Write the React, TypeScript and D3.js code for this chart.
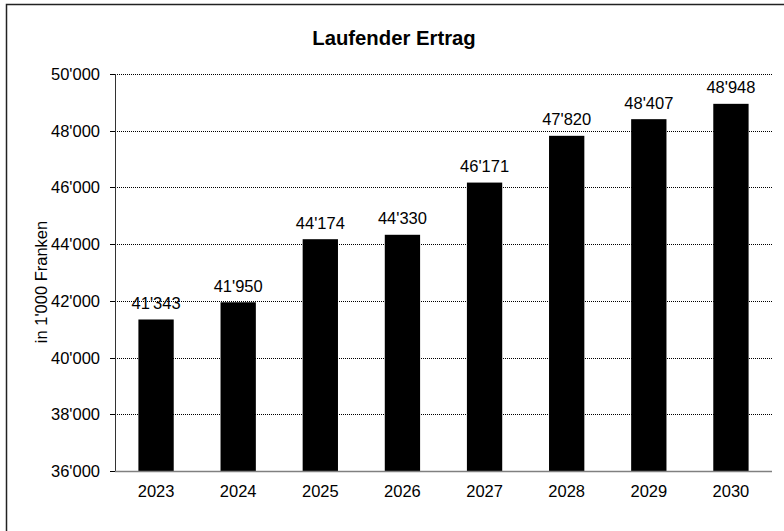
import React from "react";
import { scaleBand, scaleLinear, formatLocale, range } from "d3";

const width = 784;
const height = 531;
const margin = { top: 74, right: 12, bottom: 60, left: 115 };
const plotW = 772 - margin.left;
const plotH = 471 - margin.top;

const years = ["2023", "2024", "2025", "2026", "2027", "2028", "2029", "2030"];
const ertrag = [41343, 41950, 44174, 44330, 46171, 47820, 48407, 48948];
const yTicks = range(36000, 50001, 2000);

const title = "Laufender Ertrag";
const yLabel = "in 1'000 Franken";

const fmt = formatLocale({
  decimal: ".",
  thousands: "'",
  grouping: [3],
  currency: ["", ""],
}).format(",d");

const x = scaleBand().domain(years).range([0, plotW]).paddingInner(0.57).paddingOuter(0.285);
const y = scaleLinear().domain([36000, 50000]).range([plotH, 0]);

const font = "'Liberation Sans', Arial, sans-serif";
const fs = 16.5;

const App = () => (
  <svg
    width={width}
    height={height}
    style={{ position: "absolute", left: 0, top: 0, background: "#fff" }}
    fontFamily={font}
  >
    <rect x={6.5} y={4.5} width={800} height={600} fill="#fff" stroke="#222" strokeWidth="1.5" />
    <text x={394} y={45} textAnchor="middle" fontSize="20.3" fontWeight="bold">
      {title}
    </text>
    <text
      transform={`translate(47, 282) rotate(-90)`}
      textAnchor="middle"
      fontSize={fs}
    >
      {yLabel}
    </text>
    <g transform={`translate(${margin.left}, ${margin.top})`}>
      {yTicks.map((t) => (
        <g key={t} transform={`translate(0, ${Math.round(y(t)) + 0.5})`}>
          {t > 36000 && (
            <line x1={0} x2={plotW} stroke="#000" strokeWidth="1" strokeDasharray="1,1" />
          )}
          <line x1={-5} x2={0} stroke="#000" />
          <text x={-15} dy="0.35em" textAnchor="end" fontSize={fs}>
            {fmt(t)}
          </text>
        </g>
      ))}
      {ertrag.map((v, i) => (
        <g key={years[i]}>
          <rect x={x(years[i])} y={y(v)} width={x.bandwidth()} height={plotH - y(v)} fill="#000" />
          <text
            x={(x(years[i]) as number) + x.bandwidth() / 2}
            y={y(v) - 10.5}
            textAnchor="middle"
            fontSize={fs}
          >
            {fmt(v)}
          </text>
          <text
            x={(x(years[i]) as number) + x.bandwidth() / 2}
            y={plotH + 26}
            textAnchor="middle"
            fontSize={fs}
          >
            {years[i]}
          </text>
        </g>
      ))}
      <line x1={0.5} x2={0.5} y1={0} y2={plotH} stroke="#333" />
      <line x1={0} x2={plotW} y1={plotH + 0.5} y2={plotH + 0.5} stroke="#808080" strokeWidth="1.5" />
    </g>
  </svg>
);

export default App;
